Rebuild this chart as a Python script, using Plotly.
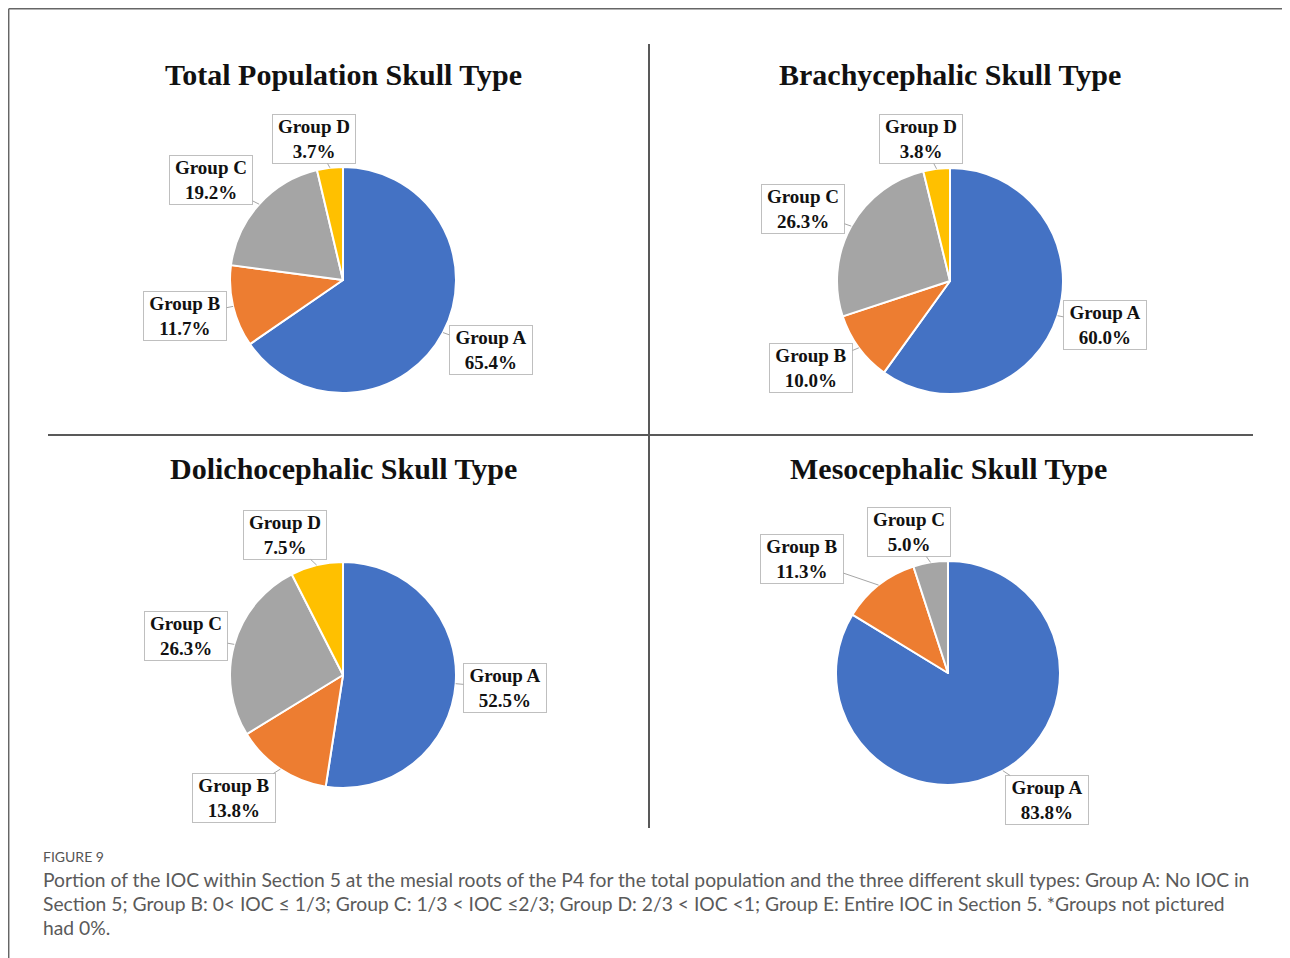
import math
import plotly.graph_objects as go

W, H = 1290, 958
OFF = 8  # page body margin offset

# ---- data ----
groups = ["Group A", "Group B", "Group C", "Group D"]
total_vals = [65.4, 11.7, 19.2, 3.7]
brachy_vals = [60.0, 10.0, 26.3, 3.8]
dolicho_vals = [52.5, 13.8, 26.3, 7.5]
meso_groups = ["Group A", "Group B", "Group C"]
meso_vals = [83.8, 11.3, 5.0]

titles = ["Total Population Skull Type", "Brachycephalic Skull Type",
          "Dolichocephalic Skull Type", "Mesocephalic Skull Type"]

colors = {"Group A": "#4472C4", "Group B": "#ED7D31", "Group C": "#A5A5A5", "Group D": "#FFC000"}

caption_head = "FIGURE 9"
caption_lines = [
    "Portion of the IOC within Section 5 at the mesial roots of the P4 for the total population and the three different skull types: Group A: No IOC in",
    "Section 5; Group B: 0< IOC ≤ 1/3; Group C: 1/3 < IOC ≤2/3; Group D: 2/3 < IOC <1; Group E: Entire IOC in Section 5. *Groups not pictured",
    "had 0%.",
]

# ---- layout (pixel geometry) ----
panels = [
    dict(labels=groups, values=total_vals, center=(343, 280), r=113, title_y=74,
         boxes={"Group A": (491, 350), "Group B": (185, 316), "Group C": (211, 180), "Group D": (314, 139)}),
    dict(labels=groups, values=brachy_vals, center=(950, 281), r=113, title_y=74,
         boxes={"Group A": (1105, 325), "Group B": (811, 368), "Group C": (803, 209), "Group D": (921, 139)}),
    dict(labels=groups, values=dolicho_vals, center=(343, 675), r=113, title_y=469,
         boxes={"Group A": (505, 688), "Group B": (234, 798), "Group C": (186, 636), "Group D": (285, 535)}),
    dict(labels=meso_groups, values=meso_vals, center=(948, 673), r=112, title_y=469,
         boxes={"Group A": (1047, 800), "Group B": (802, 559), "Group C": (909, 532)}),
]


def X(px):
    return (px - OFF) / W


def Y(py):
    return 1 - (py - OFF) / H


fig = go.Figure()
annotations = []

for p, title in zip(panels, titles):
    cx, cy = p["center"]
    r = p["r"]
    fig.add_trace(go.Pie(
        labels=p["labels"], values=p["values"], sort=False, direction="clockwise", rotation=0,
        marker=dict(colors=[colors[g] for g in p["labels"]], line=dict(color="white", width=2)),
        textinfo="none", hoverinfo="label+percent", showlegend=False,
        domain=dict(x=[X(cx - r), X(cx + r)], y=[Y(cy + r), Y(cy - r)]),
    ))
    annotations.append(dict(
        text="<b>" + title + "</b>", x=X(cx), y=Y(p["title_y"]), xref="paper", yref="paper",
        showarrow=False, xanchor="center", yanchor="middle",
        font=dict(family="Liberation Serif", size=30, color="#111111"),
    ))
    total = sum(p["values"])
    cum = 0.0
    for lab, v in zip(p["labels"], p["values"]):
        mid = (cum + v / 2) / total
        cum += v
        th = 2 * math.pi * mid
        tx = cx + r * math.sin(th)
        ty = cy - r * math.cos(th)
        bx, by = p["boxes"][lab]
        annotations.append(dict(
            text="<b>%s</b><br><b>%.1f%%</b>" % (lab, v),
            x=X(tx), y=Y(ty), xref="paper", yref="paper",
            ax=bx - tx, ay=by - ty, showarrow=True, arrowhead=0, arrowwidth=1,
            arrowcolor="#A6A6A6", standoff=0, startstandoff=0,
            bgcolor="white", bordercolor="#BFBFBF", borderwidth=1, borderpad=2,
            width=78, height=44, align="center", valign="middle",
            font=dict(family="Liberation Serif", size=19, color="#111111"),
        ))

annotations.append(dict(
    text=caption_head, x=X(41), y=Y(856), xref="paper", yref="paper", showarrow=False,
    xanchor="left", yanchor="middle", font=dict(family="Lato", size=14, color="#555555"),
))
for i, line in enumerate(caption_lines):
    annotations.append(dict(
        text=line, x=X(41), y=Y(879 + 24 * i), xref="paper", yref="paper", showarrow=False,
        xanchor="left", yanchor="middle", font=dict(family="Lato", size=19.3, color="#5a5a5a"),
    ))

shapes = [
    dict(type="line", xref="paper", yref="paper", x0=X(649), x1=X(649), y0=Y(44), y1=Y(828),
         line=dict(color="#595959", width=2)),
    dict(type="line", xref="paper", yref="paper", x0=X(48), x1=X(1253), y0=Y(435), y1=Y(435),
         line=dict(color="#595959", width=2)),
    dict(type="line", xref="paper", yref="paper", x0=X(8.7), x1=X(1300), y0=Y(8.7), y1=Y(8.7),
         line=dict(color="#666666", width=1.5)),
    dict(type="line", xref="paper", yref="paper", x0=X(8.7), x1=X(8.7), y0=Y(8.7), y1=Y(970),
         line=dict(color="#666666", width=1.5)),
]

fig.update_layout(
    width=W, height=H, margin=dict(l=0, r=0, t=0, b=0),
    paper_bgcolor="white", plot_bgcolor="white",
    annotations=annotations, shapes=shapes,
)

fig.write_html("out.html")
